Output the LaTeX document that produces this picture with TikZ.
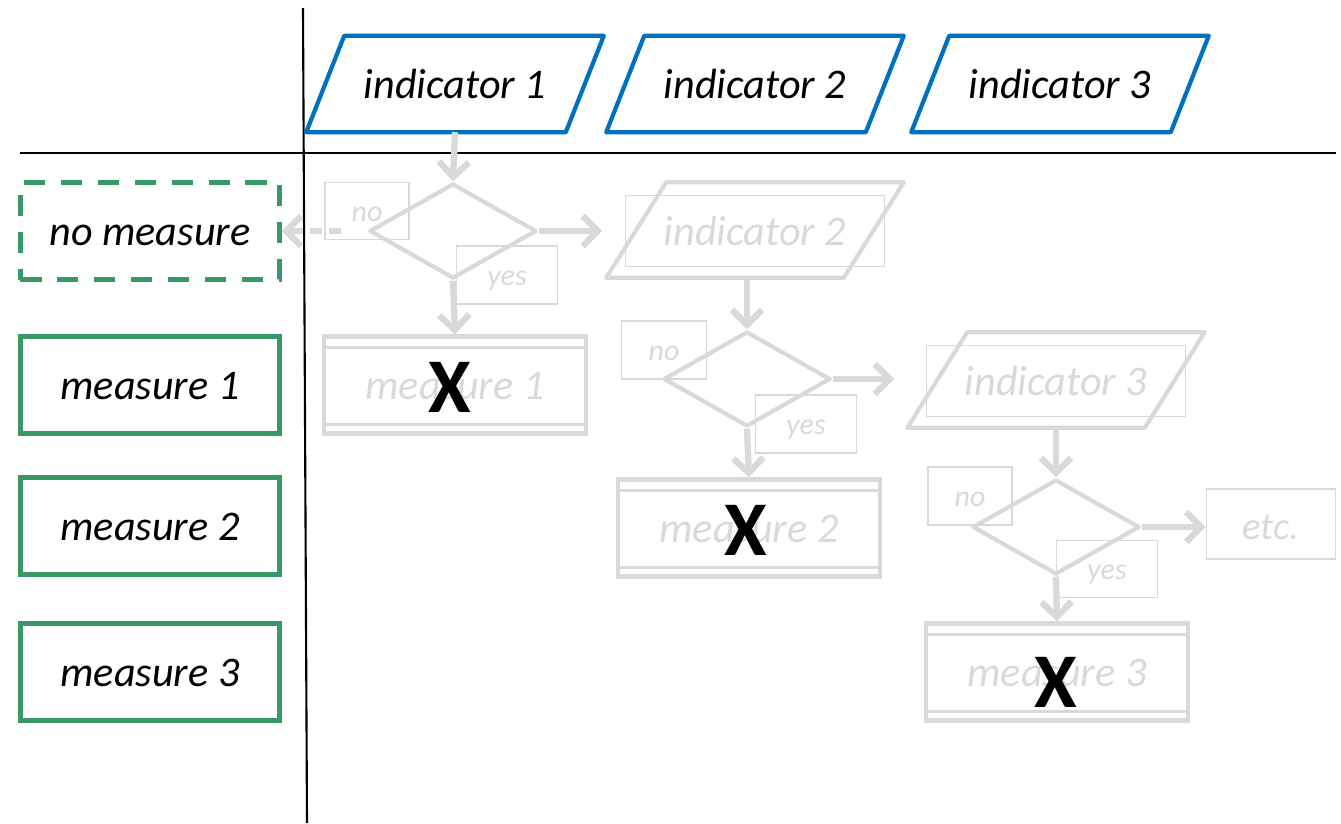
\documentclass[tikz,border=0pt]{standalone}
\usepackage{fontspec}
\setmainfont{Carlito}
\usetikzlibrary{arrows.meta,calc,shapes.geometric}

\definecolor{indblue}{RGB}{0,112,192}
\definecolor{measgreen}{RGB}{56,152,102}
\definecolor{faded}{RGB}{217,217,217}

\begin{document}
\begin{tikzpicture}[
  x=0.01cm, y=-0.01cm,
  every node/.style={inner sep=0pt, text height=8.2pt, text depth=0pt,
    font=\itshape\fontsize{12}{14}\selectfont},
  ind/.style={rectangle, minimum width=2.58cm, minimum height=0.95cm},
  indline/.style={draw=indblue, line width=1.2pt, line join=round},
  meas/.style={rectangle, draw=measgreen, line width=1.2pt,
    minimum width=2.59cm, minimum height=0.97cm},
  nomeas/.style={meas, dash pattern=on 6pt off 4.5pt},
  gpar/.style={rectangle, minimum width=2.36cm, minimum height=0.94cm},
  gline/.style={draw=faded, line width=1.2pt, line join=round},
  gbox/.style={rectangle, draw=faded, line width=0.5pt, text=faded},
  small/.style={text height=5.8pt, font=\itshape\fontsize{8.5}{10}\selectfont},
  gdec/.style={diamond, draw=faded, line width=1.2pt, line join=round,
    minimum width=1.67cm, minimum height=0.95cm},
  gproc/.style={rectangle, draw=faded, line width=1.2pt, text=faded,
    minimum width=2.62cm, minimum height=0.97cm},
  flow/.style={draw=faded, line width=1.8pt,
    -{Straight Barb[length=0.15cm, width=0.3cm]}},
  cross/.style={text height=14pt, font=\bfseries\upshape\fontsize{22}{22}\selectfont}
]
\useasboundingbox (0,0) rectangle (1341,823);

% =======================
% Table rules
% =======================
\draw[line width=0.6pt] (303,8) -- (307,823);
\draw[line width=0.6pt] (20,153) -- (1336,153);

% =======================
% Header: indicators
% =======================
\node[ind] (ind1) at (455,84) {indicator 1};
\node[ind] (ind2) at (755,84) {indicator 2};
\node[ind] (ind3) at (1060,84) {indicator 3};

% parallelogram outlines (slant in px)
\foreach \n in {ind1,ind2,ind3}{
  \draw[indline] ($(\n.south west)+(-19,0)$) -- ($(\n.north west)+(19,0)$)
    -- ($(\n.north east)+(19,0)$) -- ($(\n.south east)+(-19,0)$) -- cycle;
}

% =======================
% Left column: measures
% =======================
\node[nomeas] (nomeas) at (150,231) {no measure};
\node[meas] (meas1) at (150,385) {measure 1};
\node[meas] (meas2) at (150,526) {measure 2};
\node[meas] (meas3) at (150,672) {measure 3};

% =======================
% Faded decision tree
% =======================
% step 1
\node[gdec] (dec1) at (453,231) {};
\node[gbox, small, minimum width=0.84cm, minimum height=0.57cm] (no1) at (367,211) {no};
\node[gbox, small, minimum width=1.01cm, minimum height=0.58cm] (yes1) at (507,275) {yes};
\node[gproc] (proc1) at (455,385) {measure 1};

% step 2
\node[gpar] (gind2) at (755,230) {};
\node[gbox, minimum width=2.59cm, minimum height=0.71cm] (gind2txt) at (755,231) {indicator 2};
\node[gdec] (dec2) at (747,379) {};
\node[gbox, small, minimum width=0.85cm, minimum height=0.58cm] (no2) at (664,350) {no};
\node[gbox, small, minimum width=1.01cm, minimum height=0.58cm] (yes2) at (806,424) {yes};
\node[gproc] (proc2) at (749,528) {measure 2};

% step 3
\node[gpar] (gind3) at (1056,380) {};
\node[gbox, minimum width=2.59cm, minimum height=0.71cm] (gind3txt) at (1056,381) {indicator 3};
\node[gdec] (dec3) at (1056,527) {};
\node[gbox, small, minimum width=0.84cm, minimum height=0.58cm] (no3) at (970,496) {no};
\node[gbox, small, minimum width=1.01cm, minimum height=0.57cm] (yes3) at (1107,569) {yes};
\node[gproc] (proc3) at (1057,672) {measure 3};
\node[gbox, text height=9pt, font=\itshape\fontsize{11}{13}\selectfont,
  minimum width=1.29cm, minimum height=0.70cm] (etc) at (1271,524) {etc.};

% faded parallelograms
\foreach \n in {gind2,gind3}{
  \draw[gline] ($(\n.south west)+(-30,0)$) -- ($(\n.north west)+(30,0)$)
    -- ($(\n.north east)+(30,0)$) -- ($(\n.south east)+(-30,0)$) -- cycle;
}

% double rules inside the process boxes
\foreach \p in {proc1,proc2,proc3}{
  \draw[faded, line width=0.8pt] ($(\p.north west)+(0,13)$) -- ($(\p.north east)+(0,13)$);
  \draw[faded, line width=0.8pt] ($(\p.south west)+(0,-11)$) -- ($(\p.south east)+(0,-11)$);
}

% arrows
\draw[flow] (ind1.south) -- (dec1.north);
\draw[flow] (dec1.south) -- (proc1.north);
\draw[flow, shorten >=0.34cm] (dec1.east) -- (dec1.east -| gind2.west);
\draw[flow, dash pattern=on 3.5pt off 2pt, shorten <=0.26cm] (dec1.west) -- (nomeas.east);

\draw[flow] (dec2.north |- gind2.south) -- (dec2.north);
\draw[flow] (dec2.south) -- (proc2.north);
\draw[flow, shorten >=0.43cm] (dec2.east) -- (dec2.east -| gind3.west);

\draw[flow] (dec3.north |- gind3.south) -- (dec3.north);
\draw[flow] (dec3.south) -- (proc3.north);
\draw[flow] (dec3.east) -- (dec3.east -| etc.west);

% =======================
% Crossed-out outcomes
% =======================
\node[cross] (x1) at (450,388) {X};
\node[cross] (x2) at (746,531) {X};
\node[cross] (x3) at (1056,683) {X};
\end{tikzpicture}
\end{document}
